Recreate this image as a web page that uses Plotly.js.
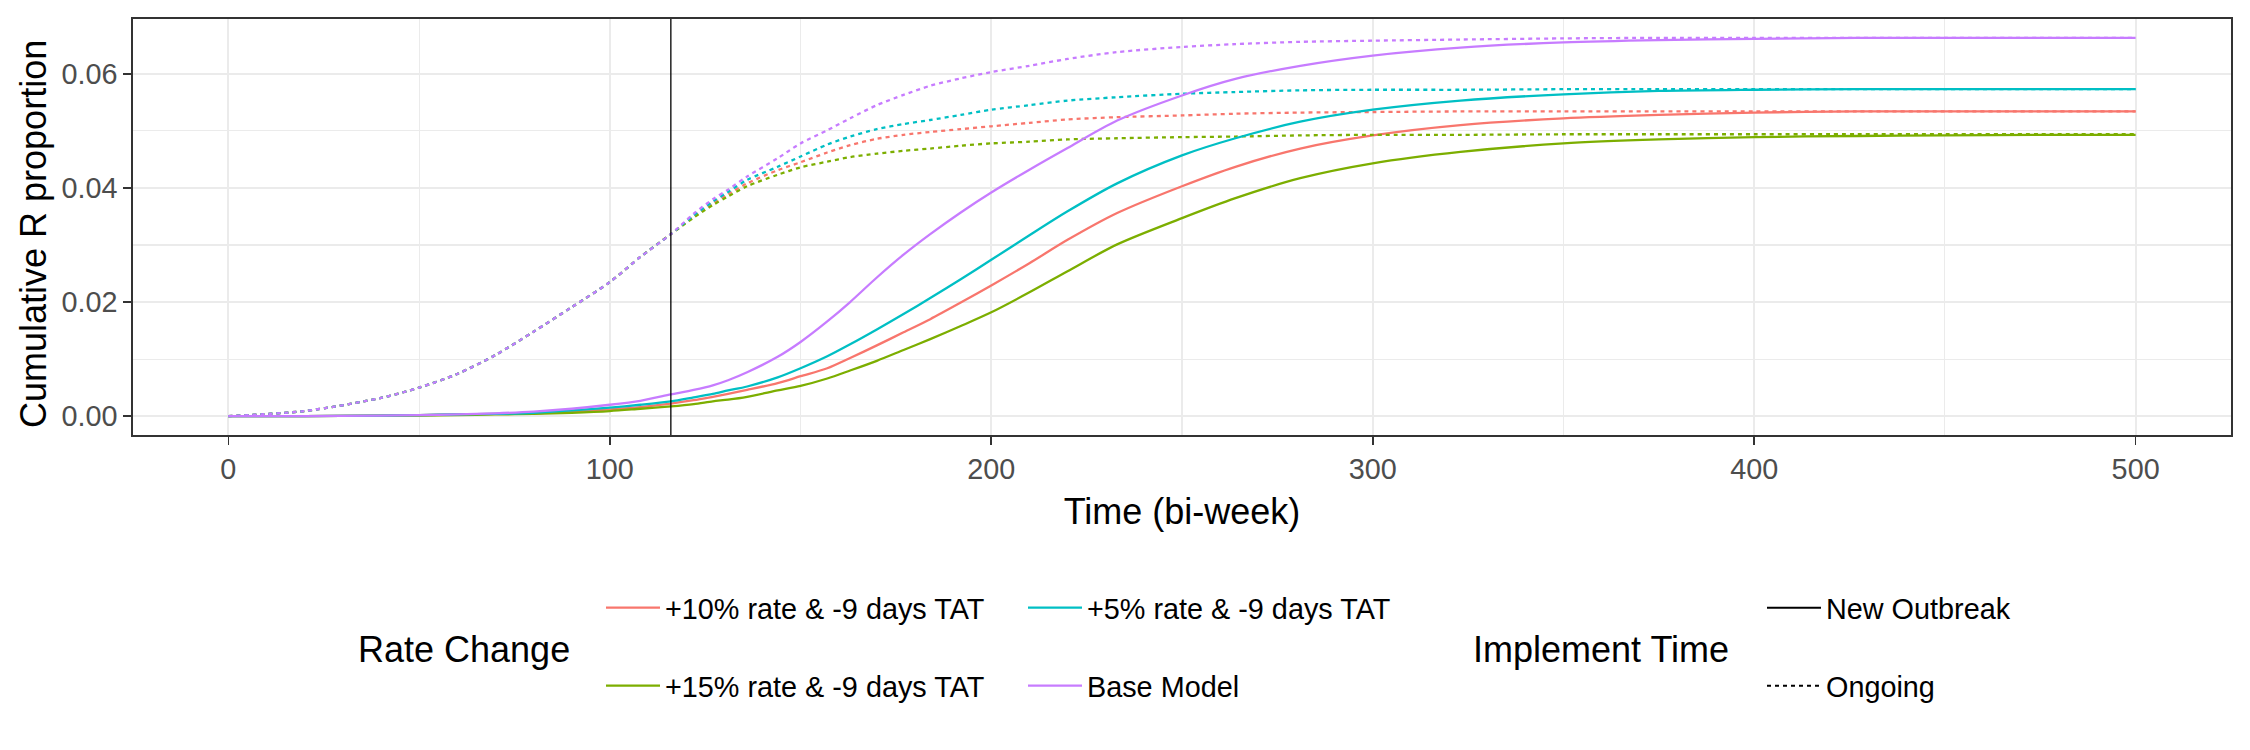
<!DOCTYPE html>
<html>
<head>
<meta charset="utf-8">
<script src="https://cdn.plot.ly/plotly-3.0.1.min.js"></script>
<style>
  html, body { margin: 0; padding: 0; background: #ffffff; }
  #chart { width: 2250px; height: 750px; }
</style>
</head>
<body>
<div id="chart"></div>
<script>
// ---------------- data ----------------
const time = [0, 20, 40, 50, 60, 70, 80, 90, 100, 108, 116, 122, 127, 131, 136, 144, 150, 157, 163, 170,
              177, 184, 192, 200, 210, 220, 233, 250, 264, 281, 300, 323, 350, 375, 400, 427, 450, 475, 500];

const rateLabels = ['+10% rate & -9 days TAT', '+15% rate & -9 days TAT', '+5% rate & -9 days TAT', 'Base Model'];
const rateColors = ['#F8766D', '#7CAE00', '#00BFC4', '#C77CFF'];
const implementLabels = ['New Outbreak', 'Ongoing'];
const implementTime = 116;

// New Outbreak (solid)
const newRate10 = [0, 0, 0.0001, 0.0002, 0.0003, 0.0004, 0.0005, 0.0008, 0.0012, 0.0016,
  0.0022, 0.0028, 0.0034, 0.0039, 0.0046, 0.0058, 0.0070, 0.0084, 0.0102, 0.0124,
  0.0147, 0.0170, 0.0199, 0.0229, 0.0268, 0.0309, 0.0356, 0.0403, 0.0437, 0.0469,
  0.0492, 0.0510, 0.0522, 0.0528, 0.0532, 0.0534, 0.0534, 0.0534, 0.0534];
const newRate15 = [0, 0, 0.0001, 0.0001, 0.0002, 0.0003, 0.0004, 0.0006, 0.0009, 0.0013,
  0.0017, 0.0021, 0.0026, 0.0029, 0.0034, 0.0045, 0.0053, 0.0066, 0.0080, 0.0097,
  0.0116, 0.0135, 0.0158, 0.0182, 0.0217, 0.0254, 0.0301, 0.0347, 0.0382, 0.0417,
  0.0443, 0.0463, 0.0478, 0.0485, 0.0489, 0.0491, 0.0492, 0.0493, 0.0493];
const newRate5 = [0, 0, 0.0001, 0.0002, 0.0003, 0.0004, 0.0006, 0.0010, 0.0015, 0.0020,
  0.0026, 0.0033, 0.0039, 0.0045, 0.0052, 0.0068, 0.0084, 0.0105, 0.0126, 0.0152,
  0.0179, 0.0207, 0.0240, 0.0274, 0.0317, 0.0359, 0.0408, 0.0457, 0.0487, 0.0516,
  0.0537, 0.0553, 0.0564, 0.0570, 0.0572, 0.0573, 0.0573, 0.0573, 0.0573];
const newBase = [0, 0, 0.0001, 0.0002, 0.0003, 0.0005, 0.0008, 0.0013, 0.0020, 0.0027,
  0.0038, 0.0046, 0.0054, 0.0063, 0.0077, 0.0104, 0.0130, 0.0166, 0.0200, 0.0243,
  0.0283, 0.0319, 0.0357, 0.0392, 0.0432, 0.0470, 0.0518, 0.0562, 0.0591, 0.0614,
  0.0632, 0.0646, 0.0655, 0.0659, 0.0661, 0.0663, 0.0663, 0.0663, 0.0663];

// Ongoing (dotted)
const ongoingRate10 = [0, 0.0009, 0.0032, 0.0050, 0.0074, 0.0107, 0.0148, 0.0191, 0.0235, 0.0279,
  0.0319, 0.0350, 0.0373, 0.0389, 0.0408, 0.0431, 0.0445, 0.0462, 0.0475, 0.0486,
  0.0493, 0.0498, 0.0503, 0.0508, 0.0514, 0.0520, 0.0524, 0.0527, 0.0530, 0.0532,
  0.0533, 0.0534, 0.0534, 0.0534, 0.0534, 0.0534, 0.0534, 0.0534, 0.0534];
const ongoingRate15 = [0, 0.0009, 0.0032, 0.0050, 0.0074, 0.0107, 0.0148, 0.0191, 0.0235, 0.0279,
  0.0319, 0.0348, 0.0370, 0.0385, 0.0403, 0.0423, 0.0436, 0.0446, 0.0454, 0.0460,
  0.0465, 0.0469, 0.0474, 0.0478, 0.0481, 0.0485, 0.0487, 0.0489, 0.0490, 0.0492,
  0.0493, 0.0493, 0.0494, 0.0494, 0.0494, 0.0494, 0.0494, 0.0494, 0.0494];
const ongoingRate5 = [0, 0.0009, 0.0032, 0.0050, 0.0074, 0.0107, 0.0148, 0.0191, 0.0235, 0.0279,
  0.0319, 0.0352, 0.0376, 0.0393, 0.0414, 0.0437, 0.0455, 0.0476, 0.0490, 0.0503,
  0.0512, 0.0519, 0.0528, 0.0537, 0.0545, 0.0553, 0.0559, 0.0565, 0.0568, 0.0571,
  0.0572, 0.0572, 0.0573, 0.0573, 0.0573, 0.0573, 0.0573, 0.0573, 0.0573];
const ongoingBase = [0, 0.0009, 0.0032, 0.0050, 0.0074, 0.0107, 0.0148, 0.0191, 0.0235, 0.0279,
  0.0319, 0.0355, 0.0380, 0.0397, 0.0420, 0.0452, 0.0478, 0.0501, 0.0522, 0.0545,
  0.0563, 0.0579, 0.0592, 0.0603, 0.0614, 0.0626, 0.0638, 0.0647, 0.0652, 0.0656,
  0.0658, 0.0660, 0.0662, 0.0663, 0.0663, 0.0663, 0.0663, 0.0663, 0.0663];

const xTicks = [0, 100, 200, 300, 400, 500];
const yTicks = [0, 0.02, 0.04, 0.06];

// ---------------- figure ----------------
const W = 2250, H = 750;
const FONT = '"Liberation Sans", Arial, sans-serif';
const LW = 2.3;
const DOT = '4px,4px';

const newSeries = [newRate10, newRate15, newRate5, newBase];
const ongoingSeries = [ongoingRate10, ongoingRate15, ongoingRate5, ongoingBase];

const traces = [];
for (let i = 0; i < rateLabels.length; i++) {
  traces.push({
    x: time, y: newSeries[i], type: 'scatter', mode: 'lines',
    line: { color: rateColors[i], width: LW, dash: 'solid', shape: 'spline', smoothing: 0.8 },
    showlegend: false, hoverinfo: 'skip'
  });
  traces.push({
    x: time, y: ongoingSeries[i], type: 'scatter', mode: 'lines',
    line: { color: rateColors[i], width: LW, dash: DOT, shape: 'spline', smoothing: 0.8 },
    showlegend: false, hoverinfo: 'skip'
  });
}

// legend entries: colour (rate change) and linetype (implement time)
const legendIds = ['legend', 'legend2', 'legend3', 'legend4'];
for (let i = 0; i < rateLabels.length; i++) {
  traces.push({
    x: [null], y: [null], type: 'scatter', mode: 'lines', name: rateLabels[i],
    line: { color: rateColors[i], width: LW },
    legend: legendIds[i], showlegend: true, hoverinfo: 'skip'
  });
}
traces.push({
  x: [null], y: [null], type: 'scatter', mode: 'lines', name: implementLabels[0],
  line: { color: '#000000', width: 2, dash: 'solid' },
  legend: 'legend5', showlegend: true, hoverinfo: 'skip'
});
traces.push({
  x: [null], y: [null], type: 'scatter', mode: 'lines', name: implementLabels[1],
  line: { color: '#000000', width: 2, dash: DOT },
  legend: 'legend6', showlegend: true, hoverinfo: 'skip'
});

function legendAt(px, py) {
  return {
    xref: 'container', yref: 'container',
    x: px / W, y: 1 - py / H, xanchor: 'left', yanchor: 'middle',
    orientation: 'v', bgcolor: 'rgba(0,0,0,0)', borderwidth: 0,
    itemwidth: 54, itemclick: false, itemdoubleclick: false,
    font: { family: FONT, size: 28.8, color: '#000000' }
  };
}

const M = { l: 133, r: 19, t: 19, b: 315 };
const plotW = W - M.l - M.r, plotH = H - M.t - M.b;
const paperX = px => (px - M.l) / plotW;
const paperY = py => (H - M.b - py) / plotH;

const axisCommon = {
  showline: true, mirror: true, linecolor: '#333333', linewidth: 1.7,
  ticks: 'outside', ticklen: 8, tickwidth: 1.7, tickcolor: '#333333',
  tickfont: { family: FONT, size: 28.8, color: '#4D4D4D' },
  showgrid: true, gridcolor: '#EBEBEB', gridwidth: 2.2,
  zeroline: false, fixedrange: true
};

const layout = {
  width: W, height: H,
  margin: Object.assign({ autoexpand: false, pad: 0 }, M),
  paper_bgcolor: '#ffffff', plot_bgcolor: '#ffffff',
  font: { family: FONT, color: '#000000' },
  showlegend: true,
  xaxis: Object.assign({}, axisCommon, {
    range: [-25, 525], tickmode: 'array', tickvals: xTicks,
    ticktext: xTicks.map(String),
    minor: { dtick: 50, tick0: 0, showgrid: true, gridcolor: '#EBEBEB', gridwidth: 1.1, ticks: '' },
    title: { text: 'Time (bi-week)', font: { family: FONT, size: 36, color: '#000000' }, standoff: 14 }
  }),
  yaxis: Object.assign({}, axisCommon, {
    range: [-0.0033, 0.0696], tickmode: 'array', tickvals: yTicks,
    ticktext: yTicks.map(v => v.toFixed(2)),
    minor: { dtick: 0.01, tick0: 0, showgrid: true, gridcolor: '#EBEBEB', gridwidth: 1.1, ticks: '' }
  }),
  shapes: [{
    type: 'line', xref: 'x', yref: 'paper',
    x0: implementTime, x1: implementTime, y0: 0, y1: 1,
    line: { color: '#000000', width: 1.3 }, layer: 'above'
  }],
  legend: legendAt(601, 608),
  legend2: legendAt(601, 686),
  legend3: legendAt(1023, 608),
  legend4: legendAt(1023, 686),
  legend5: legendAt(1762, 608),
  legend6: legendAt(1762, 686),
  annotations: [
    { text: 'Cumulative R proportion', xref: 'paper', yref: 'paper', x: paperX(33), y: paperY(234),
      xanchor: 'center', yanchor: 'middle', textangle: -90, showarrow: false,
      font: { family: FONT, size: 36, color: '#000000' } },
    { text: 'Rate Change', xref: 'paper', yref: 'paper', x: paperX(356), y: paperY(649),
      xanchor: 'left', yanchor: 'middle', showarrow: false,
      font: { family: FONT, size: 36, color: '#000000' } },
    { text: 'Implement Time', xref: 'paper', yref: 'paper', x: paperX(1471), y: paperY(649),
      xanchor: 'left', yanchor: 'middle', showarrow: false,
      font: { family: FONT, size: 36, color: '#000000' } }
  ]
};

Plotly.newPlot('chart', traces, layout, { staticPlot: true, displayModeBar: false });
</script>
</body>
</html>
